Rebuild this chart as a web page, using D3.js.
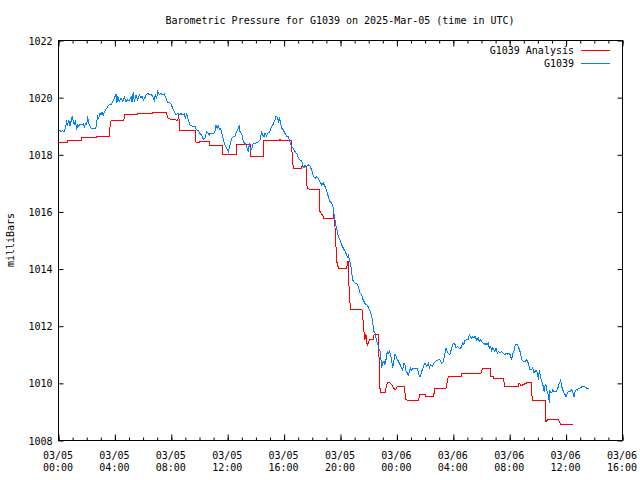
<!DOCTYPE html>
<html><head><meta charset="utf-8">
<script src="https://cdn.jsdelivr.net/npm/d3@7"></script>
<style>
body{margin:0;background:#fff}
svg text{font-family:"DejaVu Sans Mono",monospace;font-size:10px;fill:#000}
</style>
</head><body><svg id="chart" width="640" height="480"></svg>
<script>
const titleText = "Barometric Pressure for G1039 on 2025-Mar-05 (time in UTC)";
const yAxisLabel = "milliBars";
const seriesNames = ["G1039 Analysis", "G1039"];
const seriesColors = ["#ff0000", "#0080ff"];
const yTicks = [1008, 1010, 1012, 1014, 1016, 1018, 1020, 1022];
const xMajorHours = [0, 4, 8, 12, 16, 20, 24, 28, 32, 36, 40];
const xTickDates = ["03/05","03/05","03/05","03/05","03/05","03/05","03/06","03/06","03/06","03/06","03/06"];
const xTickTimes = ["00:00","04:00","08:00","12:00","16:00","20:00","00:00","04:00","08:00","12:00","16:00"];

// hours since 2025-03-05 00:00 UTC
const analysisHours = [0,0.69,0.69,1.70,1.70,2.70,2.70,3.64,3.69,3.76,4.66,4.75,5.65,5.65,6.67,6.67,7.66,7.80,7.94,8.49,8.56,8.65,9.72,9.79,10.07,10.07,10.71,10.71,11.68,11.68,12.67,12.67,13.62,13.62,14.56,14.56,15.70,15.74,15.78,16.57,16.60,16.69,17.28,17.28,17.59,17.59,17.68,17.87,18.58,18.58,18.82,18.82,19.53,19.53,19.60,19.77,19.86,19.86,20.48,20.55,20.59,20.66,20.76,21.54,21.58,21.70,21.77,21.84,21.94,22.08,22.36,22.43,22.72,22.77,22.79,22.89,23.19,23.35,23.55,23.67,23.90,24.09,24.54,24.68,24.82,25.55,25.67,26.03,26.03,26.62,26.74,27.52,27.68,28.63,28.63,29.98,30.05,30.12,30.64,30.69,30.92,30.92,31.58,31.70,32.65,32.70,32.84,33.24,33.55,33.64,34.54,34.61,34.75,35.48,35.65,36.55];
const analysisValues = [1018.41,1018.41,1018.47,1018.47,1018.60,1018.60,1018.64,1018.64,1018.97,1019.18,1019.18,1019.39,1019.39,1019.42,1019.42,1019.47,1019.47,1019.27,1019.23,1019.19,1019.38,1018.85,1018.85,1018.42,1018.42,1018.44,1018.44,1018.30,1018.30,1017.98,1017.98,1018.36,1018.36,1017.94,1017.94,1018.47,1018.47,1018.53,1018.50,1018.50,1018.04,1017.51,1017.51,1017.57,1017.57,1017.22,1016.81,1016.76,1016.76,1016.00,1015.82,1015.77,1015.77,1015.88,1015.88,1014.25,1014.07,1014.02,1014.02,1014.25,1014.25,1013.02,1012.58,1012.58,1012.50,1011.80,1011.51,1011.69,1011.28,1011.51,1011.53,1011.71,1011.71,1010.87,1009.94,1009.65,1009.65,1010.00,1010.00,1009.94,1009.74,1009.88,1009.88,1009.41,1009.38,1009.38,1009.59,1009.59,1009.51,1009.51,1009.81,1009.81,1010.21,1010.21,1010.32,1010.32,1010.40,1010.52,1010.52,1010.21,1010.21,1010.17,1010.17,1009.88,1009.88,1010.00,1009.90,1010.00,1010.00,1009.39,1009.39,1008.65,1008.71,1008.71,1008.54,1008.54];

const obsHours = [0.05,0.14,0.21,0.33,0.45,0.52,0.61,0.69,0.76,0.85,0.92,1.00,1.09,1.16,1.23,1.32,1.39,1.47,1.56,1.70,1.80,1.87,1.94,2.03,2.10,2.17,2.22,2.34,2.46,2.69,2.74,2.81,2.88,2.98,3.05,3.12,3.21,3.29,3.36,3.45,3.52,3.64,3.76,3.88,4.00,4.11,4.18,4.25,4.35,4.47,4.59,4.70,4.82,4.94,5.06,5.18,5.25,5.34,5.41,5.53,5.65,5.77,5.89,5.96,6.05,6.15,6.24,6.36,6.48,6.60,6.71,6.83,6.90,7.00,7.07,7.19,7.30,7.42,7.54,7.66,7.78,7.90,8.01,8.13,8.25,8.37,8.49,8.61,8.72,8.84,
8.96,9.03,9.12,9.24,9.36,9.48,9.60,9.72,9.83,9.95,10.07,10.19,10.31,10.42,10.54,10.66,10.73,10.78,11.02,11.13,11.21,11.30,11.37,11.44,11.54,11.61,11.68,11.77,11.84,11.96,12.08,12.15,12.20,12.32,12.43,12.55,12.67,12.79,12.86,12.91,13.03,13.14,13.26,13.38,13.50,13.57,13.66,13.73,13.85,13.97,14.09,14.21,14.33,14.44,14.51,14.61,14.68,14.80,14.92,15.03,15.15,15.27,15.39,15.46,15.56,15.63,15.70,15.79,15.86,15.98,16.10,16.22,16.34,16.45,16.57,
16.69,16.81,16.93,17.05,17.16,17.28,17.35,17.45,17.52,17.64,17.75,17.87,17.99,18.11,18.23,18.35,18.46,18.58,18.70,18.82,18.94,19.05,19.17,19.29,19.41,19.53,19.60,19.72,19.81,19.88,20.00,20.12,20.24,20.36,20.47,20.54,20.59,20.66,20.76,20.83,20.90,
20.95,21.06,21.18,21.30,21.37,21.42,21.54,21.61,21.70,21.77,21.89,22.01,22.08,22.18,22.25,22.32,22.36,22.41,22.48,22.60,22.72,22.79,22.84,22.91,22.95,23.03,23.12,23.19,23.26,23.36,23.43,23.50,23.59,23.66,23.74,23.83,23.90,23.97,24.07,24.14,24.26,24.37,24.44,24.54,24.61,24.68,24.78,24.85,24.92,25.01,25.08,25.20,25.32,25.49,25.56,25.63,25.72,25.79,25.86,25.96,26.03,26.15,26.27,26.34,26.43,26.57,26.67,26.81,26.97,27.09,
27.21,27.33,27.45,27.52,27.61,27.68,27.80,27.92,28.04,28.16,28.23,28.32,28.46,28.56,28.63,28.70,28.79,28.87,28.98,29.10,29.17,29.22,29.34,29.41,29.50,29.57,29.69,29.81,29.88,29.98,30.05,30.17,30.28,30.35,30.45,30.52,30.59,30.69,30.76,30.83,30.92,30.99,31.06,31.16,31.23,31.35,31.47,31.58,31.70,31.77,31.87,31.94,32.06,32.18,32.25,32.34,32.41,32.48,32.58,32.65,32.72,32.81,32.88,33.00,33.12,33.24,33.36,33.47,33.59,33.66,33.76,33.83,33.90,33.99,34.07,34.14,
34.23,34.30,34.37,34.47,34.54,34.61,34.70,34.78,34.85,34.89,35.01,35.08,35.18,35.32,35.41,35.49,35.56,35.65,35.72,35.79,35.89,35.96,36.03,36.12,36.19,36.31,36.43,36.50,36.60,36.67,36.74,36.83,36.90,37.02,37.14,37.26,37.38,37.49,37.68];
const obsValues = [1018.83,1018.85,1018.79,1018.83,1018.79,1018.91,1019.14,1019.03,1019.20,1018.99,1019.14,1019.32,1019.14,1019.03,1019.20,1018.85,1019.03,1018.97,1019.06,1019.03,1019.08,1018.97,1019.06,1019.03,1019.32,1019.14,1019.03,1018.91,1018.91,1018.91,1019.14,1019.32,1019.26,1019.43,1019.38,1019.46,1019.38,1019.49,1019.55,1019.61,1019.67,1019.73,1019.73,1019.84,1019.96,1020.11,1019.81,1020.02,1019.84,1019.96,1019.84,1020.00,1019.84,1019.90,1019.88,1020.02,1019.84,1020.19,1019.84,1020.08,1019.90,1020.08,1019.96,1020.04,1019.90,1019.96,1020.08,1020.13,1020.08,1020.11,1020.02,1019.90,1020.08,1019.96,1020.19,1020.08,1020.13,1020.08,1020.11,1019.96,1019.82,1019.81,1019.78,1019.61,1019.49,1019.38,1019.43,1019.38,1019.43,1019.38,
1019.41,1019.26,1019.41,1019.20,1019.03,1018.99,1018.97,1018.97,1018.85,1018.83,1018.73,1018.68,1018.52,1018.56,1018.79,1018.73,1018.68,1018.73,1018.73,1018.79,1019.03,1018.91,1019.03,1018.87,1018.91,1018.73,1018.62,1018.44,1018.33,1018.21,1018.09,1018.21,1018.33,1018.56,1018.62,1018.64,1018.79,1018.91,1019.03,1018.79,1018.73,1018.44,1018.38,1018.27,1018.09,1018.38,1018.15,1018.18,1018.38,1018.38,1018.41,1018.44,1018.50,1018.76,1018.68,1018.62,1018.73,1018.64,1018.76,1018.79,1018.97,1019.06,1019.20,1019.34,1019.29,1019.14,1019.26,1019.11,1018.91,1018.85,1018.73,1018.62,1018.62,1018.44,1018.27,
1018.21,1018.09,1018.03,1017.86,1017.80,1017.80,1017.63,1017.51,1017.63,1017.57,1017.63,1017.59,1017.45,1017.22,1017.16,1017.22,1017.16,1017.04,1016.93,1016.99,1016.87,1016.75,1016.52,1016.34,1016.29,1016.11,1015.82,1015.47,1015.30,1015.12,1015.00,1014.83,1014.71,1014.60,1014.48,1014.36,1014.51,1014.30,1014.13,1013.84,1013.61,
1013.55,1013.49,1013.47,1013.38,1013.26,1013.14,1013.09,1012.94,1012.85,1012.77,1012.74,1012.65,1012.56,1012.45,1012.33,1012.15,1011.92,1011.80,1011.75,1011.45,1011.28,1011.16,1011.10,1010.81,1010.52,1010.70,1010.76,1010.64,1010.81,1011.10,1011.05,1011.10,1010.99,1010.81,1010.52,1010.81,1010.99,1010.93,1010.81,1010.76,1010.64,1010.52,1010.46,1010.70,1010.64,1010.41,1010.35,1010.23,1010.41,1010.52,1010.46,1010.52,1010.52,1010.52,1010.35,1010.23,1010.23,1010.41,1010.46,1010.64,1010.70,1010.58,1010.70,1010.52,1010.64,1010.58,1010.70,1010.76,1010.81,1010.81,
1010.69,1010.75,1011.04,1011.22,1011.10,1011.04,1010.99,1011.22,1011.39,1011.34,1011.22,1011.28,1011.22,1011.22,1011.28,1011.39,1011.34,1011.49,1011.51,1011.51,1011.69,1011.63,1011.57,1011.63,1011.57,1011.63,1011.51,1011.57,1011.45,1011.51,1011.45,1011.39,1011.34,1011.37,1011.34,1011.39,1011.22,1011.28,1011.10,1011.22,1011.16,1011.10,1011.22,1011.04,1011.10,1011.04,1011.10,1011.04,1010.99,1011.04,1010.99,1011.04,1010.99,1010.81,1011.04,1011.10,1011.28,1011.34,1011.34,1011.28,1011.16,1011.04,1010.81,1010.75,1010.75,1010.81,1010.69,1010.46,1010.46,1010.52,1010.35,1010.40,1010.46,1010.35,1010.11,1010.46,
1010.17,1010.05,1009.99,1009.70,1009.88,1009.94,1009.65,1009.59,1009.30,1009.70,1009.65,1009.76,1009.70,1009.70,1009.76,1009.88,1009.99,1010.09,1009.88,1009.76,1009.65,1009.59,1009.51,1009.65,1009.70,1009.70,1009.76,1009.70,1009.51,1009.70,1009.76,1009.74,1009.79,1009.82,1009.86,1009.88,1009.86,1009.82,1009.82];

const svg = d3.select("#chart");
const L = 58, R = 622, T = 40, B = 440;
const x = d3.scaleLinear().domain([0, 40]).range([L, R]);
const y = d3.scaleLinear().domain([1008, 1022]).range([B, T]);

const g = svg.append("g").attr("transform", "translate(0.5,0.5)");

// title
svg.append("text").attr("x", 340).attr("y", 24).attr("text-anchor", "middle").text(titleText);
// y label
svg.append("text").attr("transform", "translate(14,240) rotate(-90)").attr("text-anchor", "middle").text(yAxisLabel);

function styleAxis(sel) {
  sel.select(".domain").remove();
  sel.selectAll("line").attr("stroke", "#000");
}
const minorHours = d3.range(0, 41, 1);

// left axis
g.append("g").attr("transform", `translate(${L},0)`)
  .call(d3.axisLeft(y).tickValues(yTicks).tickSize(-5).tickPadding(6).tickFormat(d3.format("d")))
  .call(styleAxis)
  .selectAll("text").attr("font-family", null).attr("font-size", null).attr("dy", "0.35em");
// right axis
g.append("g").attr("transform", `translate(${R},0)`)
  .call(d3.axisRight(y).tickValues(yTicks).tickSize(-5).tickFormat(""))
  .call(styleAxis);
// bottom major & minor
g.append("g").attr("transform", `translate(0,${B})`)
  .call(d3.axisBottom(x).tickValues(minorHours).tickSize(-3).tickFormat(""))
  .call(styleAxis);
g.append("g").attr("transform", `translate(0,${B})`)
  .call(d3.axisBottom(x).tickValues(xMajorHours).tickSize(-6).tickFormat(""))
  .call(styleAxis);
// top major & minor
g.append("g").attr("transform", `translate(0,${T})`)
  .call(d3.axisTop(x).tickValues(minorHours).tickSize(-3).tickFormat(""))
  .call(styleAxis);
g.append("g").attr("transform", `translate(0,${T})`)
  .call(d3.axisTop(x).tickValues(xMajorHours).tickSize(-6).tickFormat(""))
  .call(styleAxis);

// x tick labels (two lines)
const xl = svg.append("g");
xMajorHours.forEach((h, i) => {
  const t = xl.append("text").attr("text-anchor", "middle").attr("x", x(h));
  t.append("tspan").attr("x", x(h)).attr("y", 459).text(xTickDates[i]);
  t.append("tspan").attr("x", x(h)).attr("y", 471).text(xTickTimes[i]);
});

// border
g.append("rect").attr("x", L).attr("y", T).attr("width", R - L).attr("height", B - T)
  .attr("fill", "none").attr("stroke", "#000").attr("shape-rendering", "crispEdges");

// series
const analysis = analysisHours.map((h, i) => [h, analysisValues[i]]);
const obs = obsHours.map((h, i) => [h, obsValues[i]]);
const line = d3.line().x(d => x(d[0])).y(d => y(d[1]));
svg.append("path").datum(analysis).attr("d", line).attr("fill", "none")
  .attr("stroke", seriesColors[0]).attr("stroke-width", 1).attr("shape-rendering", "crispEdges");
svg.append("path").datum(obs).attr("d", line).attr("fill", "none")
  .attr("stroke", seriesColors[1]).attr("stroke-width", 1).attr("shape-rendering", "crispEdges");

// legend
const leg = svg.append("g");
seriesNames.forEach((n, i) => {
  const yy = 50 + i * 13;
  leg.append("text").attr("x", 574).attr("y", yy).attr("dy", "0.35em").attr("text-anchor", "end").text(n);
  leg.append("line").attr("x1", 581).attr("x2", 610).attr("y1", yy + 0.5).attr("y2", yy + 0.5)
    .attr("stroke", seriesColors[i]).attr("stroke-width", 1);
});
</script>
</body></html>
